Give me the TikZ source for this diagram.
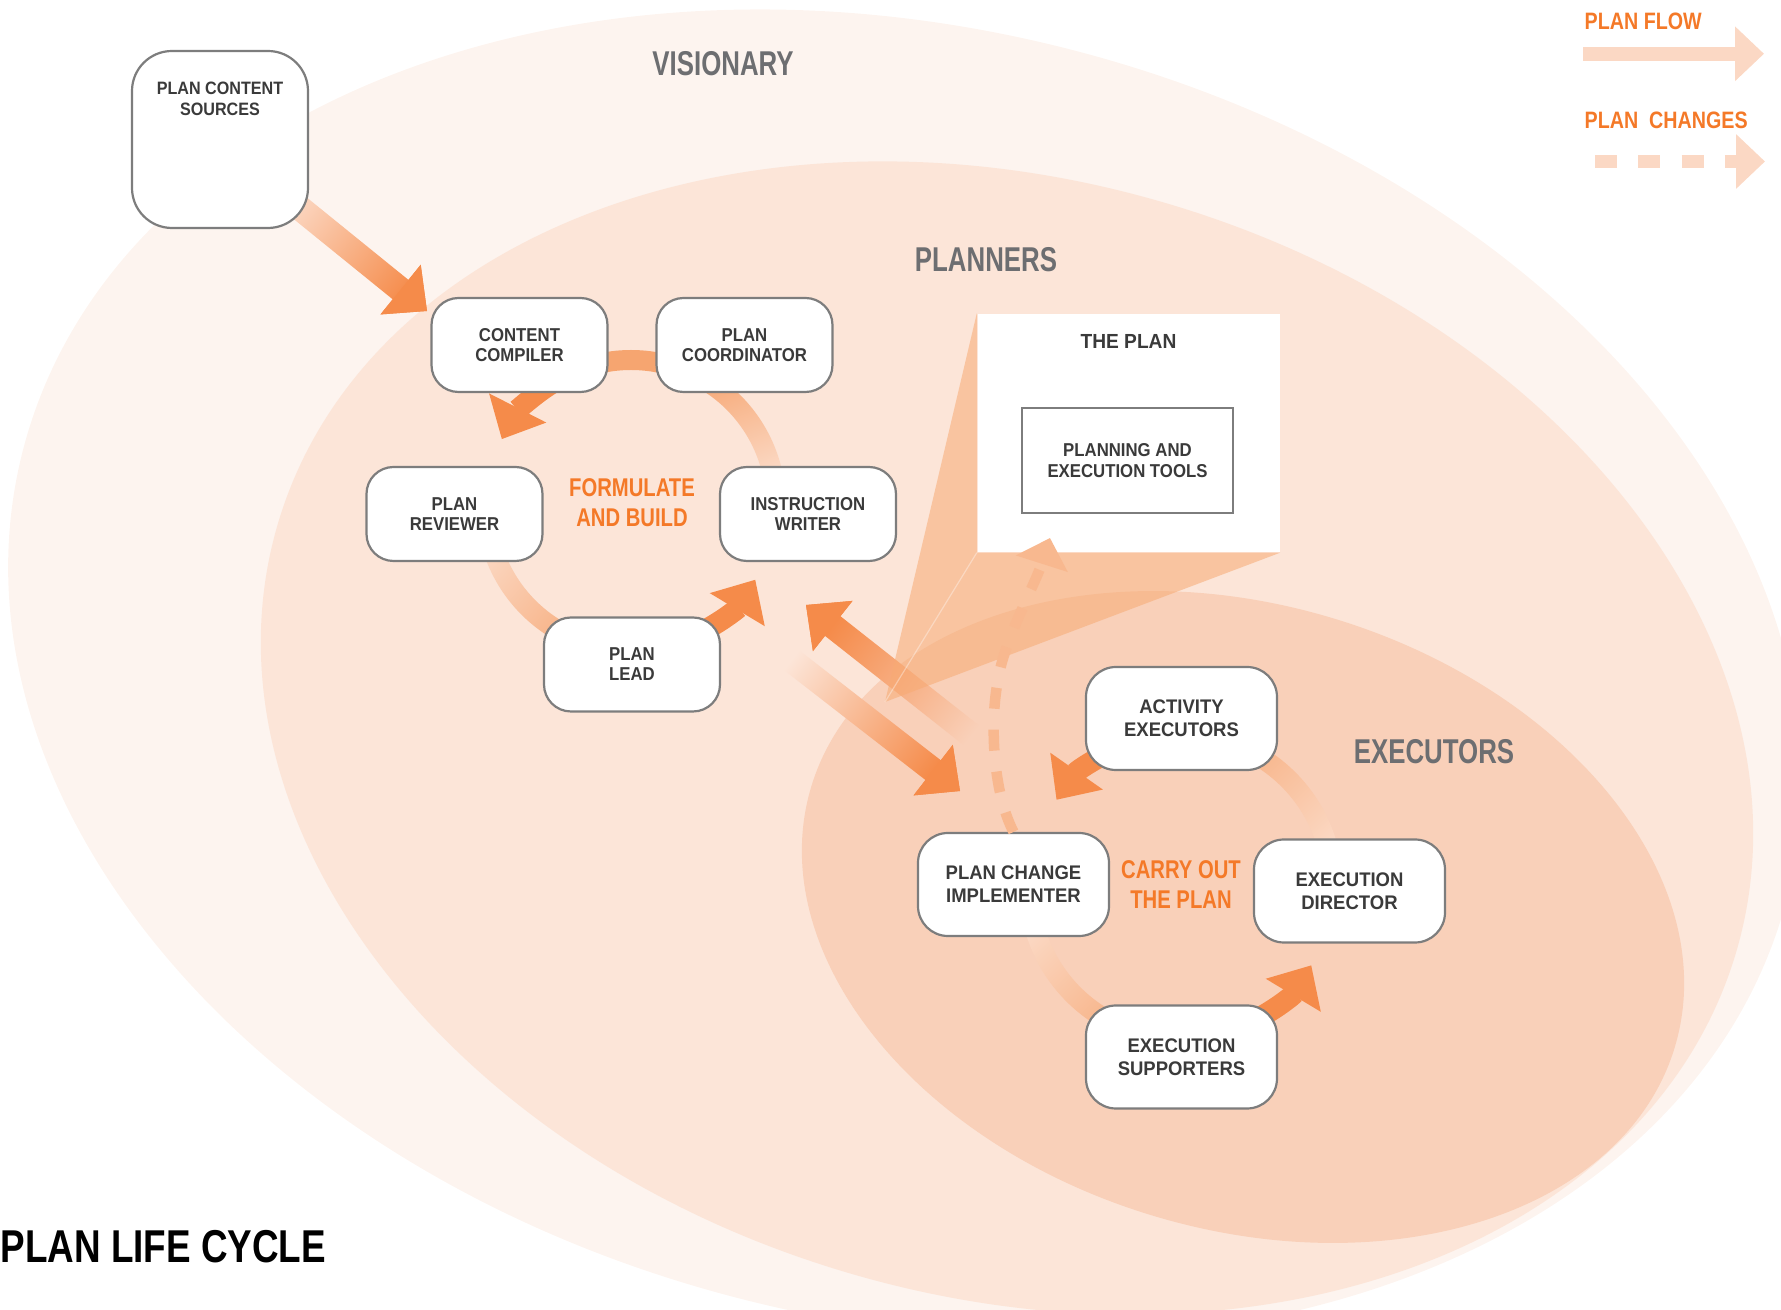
\documentclass[tikz,border=0pt]{standalone}
\usepackage{fontspec}
\setmainfont{Liberation Sans}
\newfontfamily\boxfont{Liberation Sans}[FakeStretch=0.9]
\newfontfamily\exfont{Liberation Sans}[FakeStretch=0.94]
\newfontfamily\zonefont{Liberation Sans}[FakeStretch=0.75]
\newfontfamily\phasefont{Liberation Sans}[FakeStretch=0.79]
\newfontfamily\keyfont{Liberation Sans}[FakeStretch=0.83]
\newfontfamily\titlefont{Liberation Sans}[FakeStretch=0.8]
\usetikzlibrary{calc,arrows.meta}

\definecolor{visionbg}{RGB}{253,244,239}
\definecolor{plannerbg}{RGB}{252,229,216}
\definecolor{executorbg}{RGB}{249,208,185}
\definecolor{floworange}{RGB}{245,139,74}
\definecolor{flowpale}{RGB}{251,216,195}
\definecolor{srcpale}{RGB}{251,210,186}
\definecolor{ringmid}{RGB}{246,165,112}
\definecolor{ringdark}{RGB}{247,172,124}
\definecolor{beamcol}{RGB}{247,170,115}
\definecolor{changecol}{RGB}{248,184,143}
\definecolor{legendcol}{RGB}{251,216,196}
\definecolor{boxgrey}{RGB}{125,125,125}
\definecolor{boxtext}{RGB}{58,58,58}
\definecolor{zonegrey}{RGB}{109,110,113}
\definecolor{phaseorange}{RGB}{244,121,40}

% thick straight arrow: tail, tip, shading angle, tail colour
\newcommand{\fatarrow}[4]{%
  \coordinate (fat-base) at ($(#2)!3.4mm!(#1)$);
  \shade[left color=#4, right color=floworange, shading angle=#3]
    ($(#1)!1.25mm!90:(#2)$) -- ($(fat-base)!1.25mm!90:(#2)$) -- ($(fat-base)!3.2mm!90:(#2)$) -- (#2)
    -- ($(fat-base)!3.2mm!-90:(#2)$) -- ($(fat-base)!1.25mm!-90:(#2)$) -- ($(#1)!1.25mm!-90:(#2)$) -- cycle;
  \fill[floworange] ($(fat-base)!3.2mm!90:(#2)$) -- (#2) -- ($(fat-base)!3.2mm!-90:(#2)$) -- cycle;
}

\begin{document}
\begin{tikzpicture}[x=0.1mm, y=-0.1mm]
	\tikzset{stage/.style={draw=boxgrey, line width=0.22mm, fill=white, rounded corners=2.7mm, minimum width=17.6mm, minimum height=9.4mm, inner sep=0pt, align=center, text=boxtext, font=\boxfont\bfseries\fontsize{5.3}{5.7}\selectfont}}
	\tikzset{exstage/.style={stage, rounded corners=3mm, minimum width=19.1mm, minimum height=10.3mm, font=\exfont\bfseries\fontsize{5.6}{6.6}\selectfont}}
	\tikzset{srcbox/.style={stage, rounded corners=4mm, minimum width=17.6mm, minimum height=17.7mm}}
	\tikzset{srclabel/.style={inner sep=0pt, align=center, text=boxtext, font=\boxfont\bfseries\fontsize{5.1}{5.8}\selectfont}}
	\tikzset{planbox/.style={fill=white, minimum width=30.2mm, minimum height=23.8mm, inner sep=0pt}}
	\tikzset{planlabel/.style={inner sep=0pt, text=boxtext, font=\exfont\bfseries\fontsize{5.8}{6}\selectfont}}
	\tikzset{toolbox/.style={draw=boxgrey, line width=0.25mm, fill=white, minimum width=21.1mm, minimum height=10.5mm, inner sep=0pt, align=center, text=boxtext, font=\boxfont\bfseries\fontsize{5.3}{6}\selectfont}}
	\tikzset{zone/.style={inner sep=0pt, text=zonegrey, font=\zonefont\bfseries\fontsize{9.8}{10}\selectfont}}
	\tikzset{phase/.style={inner sep=0pt, align=center, text=phaseorange, font=\phasefont\bfseries\fontsize{7.3}{8.5}\selectfont}}
	\tikzset{ringarc/.style={draw=ringmid, line width=2mm}}
	\tikzset{flowarc/.style={draw=floworange, line width=2.1mm, -{Triangle[width=6.2mm, length=3.5mm]}}}
	\tikzset{changearrow/.style={draw=changecol, line width=1.05mm, dash pattern=on 2.1mm off 2.1mm, -{Triangle[width=5.3mm, length=2.7mm]}}}
	\tikzset{keytext/.style={inner sep=0pt, anchor=west, text=phaseorange, font=\keyfont\bfseries\fontsize{6.75}{7}\selectfont}}
	\tikzset{keyflow/.style={draw=legendcol, line width=1.43mm, -{Triangle[width=5.3mm, length=2.9mm]}}}
	\tikzset{keychange/.style={keyflow, line width=1.3mm, dash pattern=on 2.2mm off 2.13mm}}
	\useasboundingbox (0,0) rectangle (1781,1310);
	\clip (0,0) rectangle (1781,1310);
	% the three role areas
	\fill[visionbg, rotate around={-14:(905,674)}] (905,674) ellipse [x radius=910, y radius=646];
	\fill[plannerbg, rotate around={-16.3:(1007,738)}] (1007,738) ellipse [x radius=760, y radius=558];
	\fill[executorbg, rotate around={-16.8:(1243,917)}] (1243,917) ellipse [x radius=451, y radius=312];
	% formulate and build ring
	\coordinate (ring1) at (631,505);
	\draw[ringarc] ($(ring1)+(-60:145)$) arc[start angle=-60, end angle=-120, radius=145];
	\shade[left color=flowpale, right color=ringdark, shading angle=200.7] ($(ring1)+(-10:155)$) arc[start angle=-10, end angle=-58, radius=155] -- ($(ring1)+(-58:135)$) arc[start angle=-58, end angle=-10, radius=135] -- cycle;
	\shade[left color=flowpale, right color=ringdark, shading angle=49.9] ($(ring1)+(175:155)$) arc[start angle=175, end angle=100, radius=155] -- ($(ring1)+(100:135)$) arc[start angle=100, end angle=175, radius=135] -- cycle;
	\draw[flowarc] ($(ring1)+(-118:145)$) arc[start angle=-118, end angle=-153, radius=145];
	\draw[flowarc] ($(ring1)+(70:145)$) arc[start angle=70, end angle=31, radius=145];
	% carry out the plan ring
	\coordinate (ring2) at (1181,887);
	\shade[left color=flowpale, right color=ringdark, shading angle=224.2] ($(ring2)+(-5:162)$) arc[start angle=-5, end angle=-85, radius=162] -- ($(ring2)+(-85:142)$) arc[start angle=-85, end angle=-5, radius=142] -- cycle;
	\shade[left color=flowpale, right color=ringdark, shading angle=44.2] ($(ring2)+(175:162)$) arc[start angle=175, end angle=95, radius=162] -- ($(ring2)+(95:142)$) arc[start angle=95, end angle=175, radius=142] -- cycle;
	\draw[flowarc] ($(ring2)+(-105:152)$) arc[start angle=-105, end angle=-145, radius=152];
	\draw[flowarc] ($(ring2)+(70:152)$) arc[start angle=70, end angle=31, radius=152];
	% plan flow between the groups
	\coordinate (srcout) at (290,200);
	\coordinate (srcin) at (427,311);
	\fatarrow{srcout}{srcin}{51}{srcpale}
	\coordinate (planout) at (772,645);
	\coordinate (planin) at (960,791);
	\fatarrow{planout}{planin}{52.1}{plannerbg}
	\coordinate (execout) at (990,750);
	\coordinate (execin) at (806,605);
	\fatarrow{execout}{execin}{231.8}{executorbg}
	% roles
	\node[srcbox] (pcs) at (220,139.5) {};
	\node[srclabel] (pcslabel) at (220,99) {PLAN CONTENT\\SOURCES};
	\node[stage] (cc) at (519.5,345) {CONTENT\\COMPILER};
	\node[stage] (pco) at (744.5,345) {PLAN\\COORDINATOR};
	\node[stage] (pr) at (454.5,514) {PLAN\\REVIEWER};
	\node[stage] (iw) at (808,514) {INSTRUCTION\\WRITER};
	\node[stage] (pl) at (632,664.5) {PLAN\\LEAD};
	\node[exstage] (ae) at (1181.5,718.5) {ACTIVITY\\EXECUTORS};
	\node[exstage] (pci) at (1013.5,884.5) {PLAN CHANGE\\IMPLEMENTER};
	\node[exstage] (ed) at (1349.5,891) {EXECUTION\\DIRECTOR};
	\node[exstage] (es) at (1181.5,1057) {EXECUTION\\SUPPORTERS};
	% the plan
	\node[planbox] (plan) at (1128.5,433) {};
	\coordinate (beamtip) at (885,702);
	\fill[beamcol, opacity=0.55] (beamtip) -- (plan.north west) -- (plan.south west) -- (plan.south east) -- cycle;
	\draw[white, opacity=0.35, line width=0.12mm] (plan.south west) -- (beamtip);
	\node[planlabel] (plantitle) at (1128.5,341) {THE PLAN};
	\node[toolbox] (tools) at (1127.5,460.5) {PLANNING AND\\EXECUTION TOOLS};
	\coordinate (changetip) at (1050,538);
	\draw[changearrow] (pci.north) .. controls (992,790) and (990,720) .. (998,680) .. controls (1004,640) and (1035,585) .. (changetip);
	% labels
	\node[zone] (visionary) at (723,64) {VISIONARY};
	\node[zone] (planners) at (986,260) {PLANNERS};
	\node[zone] (executors) at (1434,752) {EXECUTORS};
	\node[phase] (formulate) at (632,503) {FORMULATE\\AND BUILD};
	\node[phase] (carryout) at (1181,884.5) {CARRY OUT\\THE PLAN};
	\node[anchor=west, inner sep=0pt, font=\titlefont\bfseries\fontsize{13.1}{14}\selectfont] (title) at (0,1247) {PLAN LIFE CYCLE};
	% legend
	\node[keytext] (flowkey) at (1584,21.5) {PLAN FLOW};
	\coordinate (flowtail) at (1583,53.8);
	\coordinate (flowtip) at (1764,53.8);
	\draw[keyflow] (flowtail) -- (flowtip);
	\node[keytext] (changekey) at (1584,120) {PLAN~~CHANGES};
	\coordinate (changetail) at (1595,161.5);
	\coordinate (changeend) at (1765,161.5);
	\draw[keychange] (changetail) -- (changeend);
\end{tikzpicture}
\end{document}
